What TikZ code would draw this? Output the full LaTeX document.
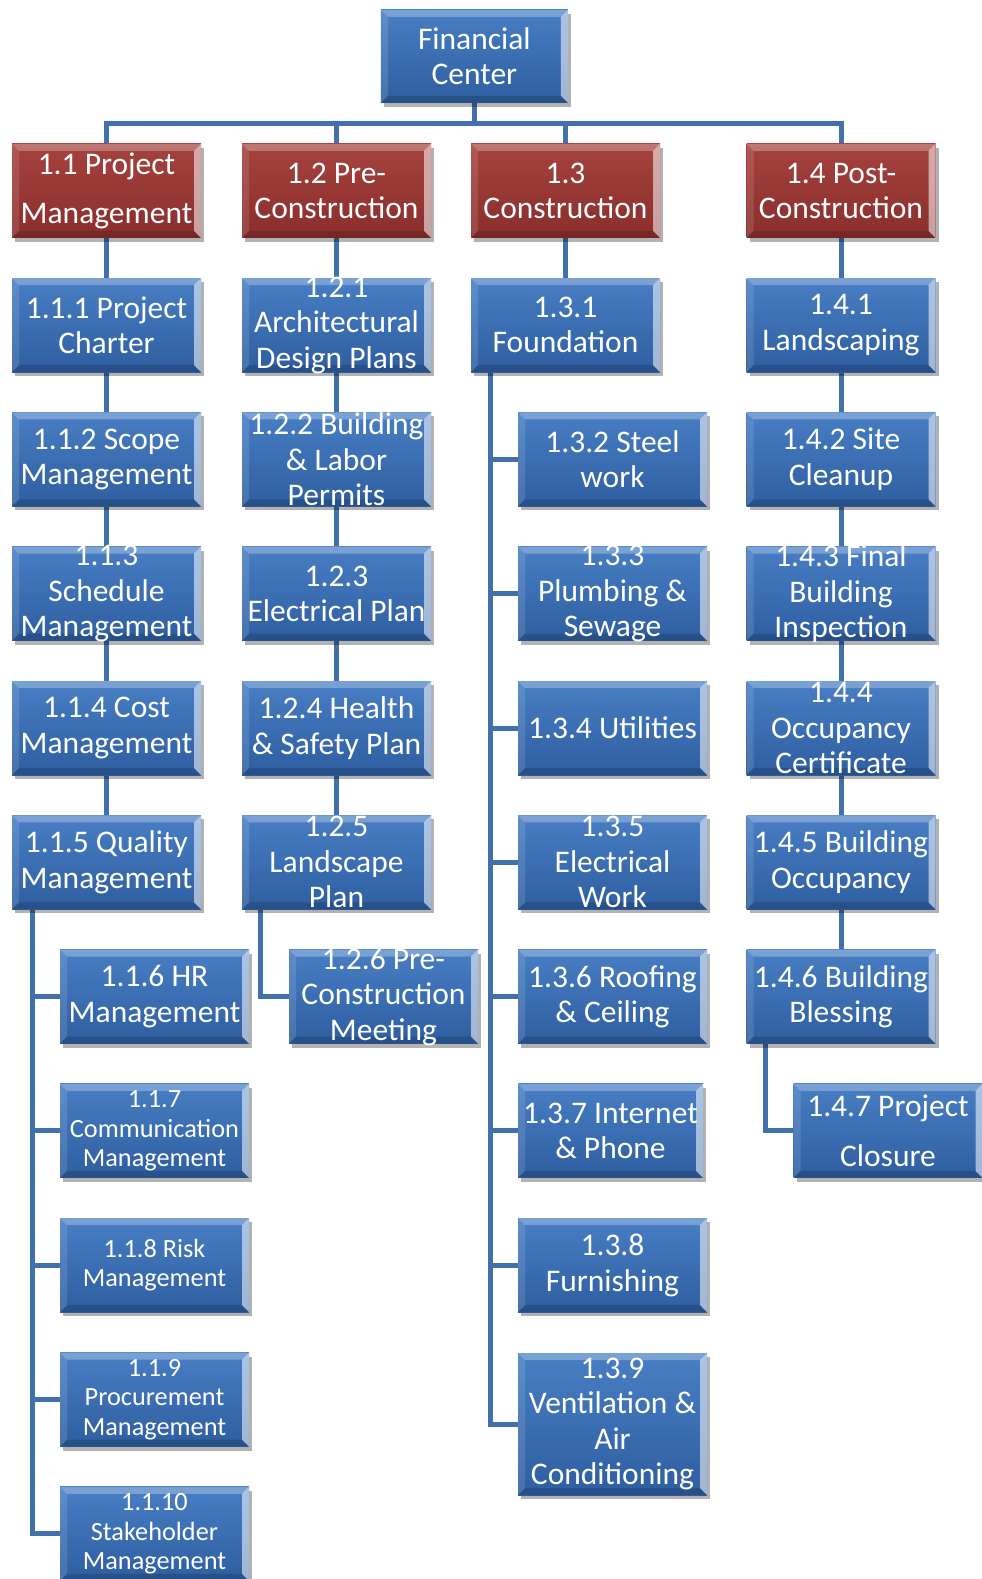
\documentclass[tikz,border=0pt]{standalone}
\usepackage{fontspec}
\setmainfont{Carlito}
\usetikzlibrary{shadows}
\pgfdeclarelayer{bg}
\pgfdeclarelayer{paper}
\pgfsetlayers{paper,bg,main}

\definecolor{linec}{RGB}{66,112,170}
\definecolor{bluetop}{RGB}{72,126,196}
\definecolor{bluebot}{RGB}{46,94,160}
\definecolor{redtop}{RGB}{165,66,62}
\definecolor{redbot}{RGB}{138,46,44}

\newcommand\bigtxt{\fontsize{31.5}{35.5}\selectfont}
\newcommand\smalltxt{\fontsize{26.3}{29.5}\selectfont}
\newcommand\widetxt{\fontsize{31.5}{49.5}\selectfont}

% beveled box with drop shadow; text goes into a separate node on top
\newcommand\bx[5][]{%
  \node[#2] (#3) at (#4) {};
  \node[txt,#1] (#3t) at (#3.center) {#5};}

\tikzset{
  conn/.style={draw=linec, line width=5pt},
  box/.style={rectangle, minimum width=189pt, minimum height=94pt, inner sep=0pt,
    drop shadow={shadow xshift=3pt, shadow yshift=-4pt, opacity=0.3, fill=black},
    path picture={
      \fill[white, opacity=0.28] (path picture bounding box.north west) -- (path picture bounding box.north east)
        -- ([xshift=-7pt,yshift=-7pt]path picture bounding box.north east) -- ([xshift=7pt,yshift=-7pt]path picture bounding box.north west) -- cycle;
      \fill[white, opacity=0.55] (path picture bounding box.north east) -- (path picture bounding box.south east)
        -- ([xshift=-7pt,yshift=7pt]path picture bounding box.south east) -- ([xshift=-7pt,yshift=-7pt]path picture bounding box.north east) -- cycle;
      \fill[black, opacity=0.15] (path picture bounding box.south east) -- (path picture bounding box.south west)
        -- ([xshift=7pt,yshift=7pt]path picture bounding box.south west) -- ([xshift=-7pt,yshift=7pt]path picture bounding box.south east) -- cycle;
      \fill[white, opacity=0.12] (path picture bounding box.south west) -- (path picture bounding box.north west)
        -- ([xshift=7pt,yshift=-7pt]path picture bounding box.north west) -- ([xshift=7pt,yshift=7pt]path picture bounding box.south west) -- cycle;
    }},
  bluebox/.style={box, top color=bluetop, bottom color=bluebot},
  redbox/.style={box, top color=redtop, bottom color=redbot},
  txt/.style={text=white, font=\bigtxt, align=center, inner sep=0pt},
  small/.style={font=\smalltxt},
  wide/.style={font=\widetxt},
}

\begin{document}
\begin{tikzpicture}[x=1pt, y=-1pt]
\useasboundingbox (0,0) rectangle (982,1579);
\begin{pgfonlayer}{paper}
  \fill[white] (0,0) rectangle (982,1579);
\end{pgfonlayer}

% top
\bx{bluebox, minimum width=187pt, minimum height=93pt}{fc}{474.4,56.4}{Financial\\Center}

% level 1
\bx[wide]{redbox}{n11}{106.5,190.8}{1.1 Project\\Management}
\bx{redbox}{n12}{336.5,190.8}{1.2 Pre-\\Construction}
\bx{redbox}{n13}{565.5,190.8}{1.3\\Construction}
\bx{redbox}{n14}{841,190.8}{1.4 Post-\\Construction}

% 1.1 column
\bx{bluebox}{n111}{106.5,325.1}{1.1.1 Project\\Charter}
\bx{bluebox}{n112}{106.5,459.4}{1.1.2 Scope\\Management}
\bx{bluebox}{n113}{106.5,593.7}{1.1.3\\Schedule\\Management}
\bx{bluebox}{n114}{106.5,728.0}{1.1.4 Cost\\Management}
\bx{bluebox}{n115}{106.5,862.3}{1.1.5 Quality\\Management}
\bx{bluebox}{n116}{154.5,996.6}{1.1.6 HR\\Management}
\bx[small]{bluebox}{n117}{154.5,1130.9}{1.1.7\\Communication\\Management}
\bx[small]{bluebox}{n118}{154.5,1265.2}{1.1.8 Risk\\Management}
\bx[small]{bluebox}{n119}{154.5,1399.5}{1.1.9\\Procurement\\Management}
\bx[small]{bluebox}{n1110}{154.5,1533.8}{1.1.10\\Stakeholder\\Management}

% 1.2 column
\bx{bluebox}{n121}{336.5,325.1}{1.2.1\\Architectural\\Design Plans}
\bx{bluebox}{n122}{336.5,459.4}{1.2.2 Building\\\& Labor\\Permits}
\bx{bluebox}{n123}{336.5,593.7}{1.2.3\\Electrical Plan}
\bx{bluebox}{n124}{336.5,728.0}{1.2.4 Health\\\& Safety Plan}
\bx{bluebox}{n125}{336.5,862.3}{1.2.5\\Landscape\\Plan}
\bx{bluebox}{n126}{383.5,996.6}{1.2.6 Pre-\\Construction\\Meeting}

% 1.3 column
\bx{bluebox}{n131}{565.5,325.1}{1.3.1\\Foundation}
\bx{bluebox}{n132}{612.5,459.4}{1.3.2 Steel\\work}
\bx{bluebox}{n133}{612.5,593.7}{1.3.3\\Plumbing \&\\Sewage}
\bx{bluebox}{n134}{612.5,728.0}{1.3.4 Utilities}
\bx{bluebox}{n135}{612.5,862.3}{1.3.5\\Electrical\\Work}
\bx{bluebox}{n136}{612.5,996.6}{1.3.6 Roofing\\\& Ceiling}
\bx{bluebox, minimum width=185pt}{n137}{610.5,1130.9}{1.3.7 Internet\\\& Phone}
\bx{bluebox}{n138}{612.5,1265.2}{1.3.8\\Furnishing}
\bx{bluebox, minimum height=142pt}{n139}{612.5,1424}{1.3.9\\Ventilation \&\\Air\\Conditioning}

% 1.4 column
\bx{bluebox}{n141}{841,325.1}{1.4.1\\Landscaping}
\bx{bluebox}{n142}{841,459.4}{1.4.2 Site\\Cleanup}
\bx{bluebox}{n143}{841,593.7}{1.4.3 Final\\Building\\Inspection}
\bx{bluebox}{n144}{841,728.0}{1.4.4\\Occupancy\\Certificate}
\bx{bluebox}{n145}{841,862.3}{1.4.5 Building\\Occupancy}
\bx{bluebox}{n146}{841,996.6}{1.4.6 Building\\Blessing}
\bx[wide]{bluebox}{n147}{888,1130.9}{1.4.7 Project\\Closure}

% trunk positions of the indented branches
\coordinate (bus) at (474.4,123);
\coordinate (t1) at (32,0);
\coordinate (t2) at (260,0);
\coordinate (t3) at (490.5,0);
\coordinate (t4) at (765.5,0);

\begin{pgfonlayer}{bg}
  \draw[conn] (fc.center) -- (bus);
  \draw[conn] (n11.center) -- (n11 |- bus) -- (n14 |- bus) -- (n14.center);
  \draw[conn] (n12.center) -- (n12 |- bus);
  \draw[conn] (n13.center) -- (n13 |- bus);

  \draw[conn] (n11.center) -- (n115.center);
  \draw[conn] (n12.center) -- (n125.center);
  \draw[conn] (n13.center) -- (n131.center);
  \draw[conn] (n14.center) -- (n146.center);

  \draw[conn] (n115.south -| t1) |- (n1110.west);
  \foreach \n in {n116,n117,n118,n119} \draw[conn] (\n.west -| t1) -- (\n.west);

  \draw[conn] (n125.south -| t2) |- (n126.west);

  \draw[conn] (n131.south -| t3) |- (n139.west);
  \foreach \n in {n132,n133,n134,n135,n136,n137,n138} \draw[conn] (\n.west -| t3) -- (\n.west);

  \draw[conn] (n146.south -| t4) |- (n147.west);
\end{pgfonlayer}
\end{tikzpicture}
\end{document}
